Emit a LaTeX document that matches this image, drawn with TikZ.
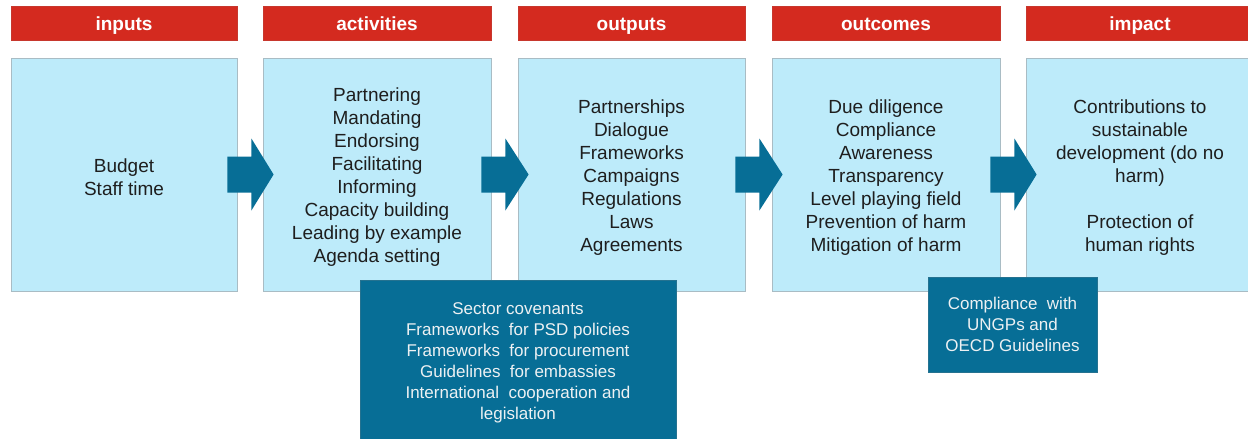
\documentclass[tikz,border=0pt]{standalone}
\usepackage{fontspec}
\setmainfont{Liberation Sans}
\usetikzlibrary{calc}
\definecolor{hdrred}{HTML}{D42A1F}
\definecolor{boxblue}{HTML}{BDEBFA}
\definecolor{boxline}{HTML}{A9BCC4}
\definecolor{darkteal}{HTML}{076E96}
\definecolor{textdark}{HTML}{1E1E1E}
\definecolor{notetext}{HTML}{EDF1F3}
\begin{document}
\begin{tikzpicture}[x=1pt,y=1pt,
  header/.style={fill=hdrred, draw=hdrred!85!gray, line width=0.6,
    minimum height=34, inner sep=0, text=white, text height=15, text depth=0,
    font=\fontsize{19}{23}\selectfont\bfseries},
  stage/.style={fill=boxblue, draw=boxline, line width=0.8,
    minimum height=233, inner sep=0},
  stagetext/.style={align=center, text=textdark, inner sep=0,
    font=\fontsize{19}{23}\selectfont},
  note/.style={fill=darkteal, draw=darkteal!75!gray, line width=0.6,
    inner sep=0, align=center, text=notetext,
    font=\fontsize{17}{21}\selectfont},
  flow/.style={fill=darkteal}]
\useasboundingbox (0,0) rectangle (1248,-439);

% column headers
\node[header, minimum width=226] (hin)  at (124,-23)    {inputs};
\node[header, minimum width=228] (hact) at (377,-23)    {activities};
\node[header, minimum width=227] (hout) at (631.5,-23)  {outputs};
\node[header, minimum width=228] (hoc)  at (886,-23)    {outcomes};
\node[header, minimum width=228] (himp) at (1140,-23)   {impact};

% stage boxes
\node[stage, minimum width=226] (inputs)     at (124,-174.5)   {};
\node[stage, minimum width=228] (activities) at (377,-174.5)   {};
\node[stage, minimum width=227] (outputs)    at (631.5,-174.5) {};
\node[stage, minimum width=228] (outcomes)   at (886,-174.5)   {};
\node[stage, minimum width=228] (impact)     at (1140,-174.5)  {};

% stage contents, set a little below the box centre
\node[stagetext] (inputs-txt) at ($(inputs.center)+(0,-3)$)
  {Budget\\Staff time};
\node[stagetext] (activities-txt) at ($(activities.center)+(0,-3)$)
  {Partnering\\Mandating\\Endorsing\\Facilitating\\Informing\\Capacity building\\Leading by example\\Agenda setting};
\node[stagetext] (outputs-txt) at ($(outputs.center)+(0,-3)$)
  {Partnerships\\Dialogue\\Frameworks\\Campaigns\\Regulations\\Laws\\Agreements};
\node[stagetext] (outcomes-txt) at ($(outcomes.center)+(0,-3)$)
  {Due diligence\\Compliance\\Awareness\\Transparency\\Level playing field\\Prevention of harm\\Mitigation of harm};
\node[stagetext] (impact-txt) at ($(impact.center)+(0,-3)$)
  {Contributions to\\sustainable\\development (do no\\harm)\\[23pt]Protection of\\human rights};

% block arrows between the stages
\foreach \a/\b in {inputs/activities, activities/outputs, outputs/outcomes, outcomes/impact}
  \fill[flow] ($(\a.east)+(-10,18)$) -- ($(\a.east)+(14,18)$) -- ($(\a.east)+(14,36)$)
    -- ($(\b.west)+(11,0)$)
    -- ($(\a.east)+(14,-36)$) -- ($(\a.east)+(14,-18)$) -- ($(\a.east)+(-10,-18)$) -- cycle;

% instrument boxes
\node[note, minimum width=316, minimum height=165] (instr) at (518,-362.5)
  {Sector covenants\\Frameworks~ for PSD policies\\Frameworks~ for procurement\\Guidelines~ for embassies\\International~ cooperation and\\legislation};
\node[note, minimum width=169, minimum height=95] (ungp) at (1012.5,-324.5)
  {Compliance~ with\\UNGPs and\\OECD Guidelines};
\end{tikzpicture}
\end{document}
